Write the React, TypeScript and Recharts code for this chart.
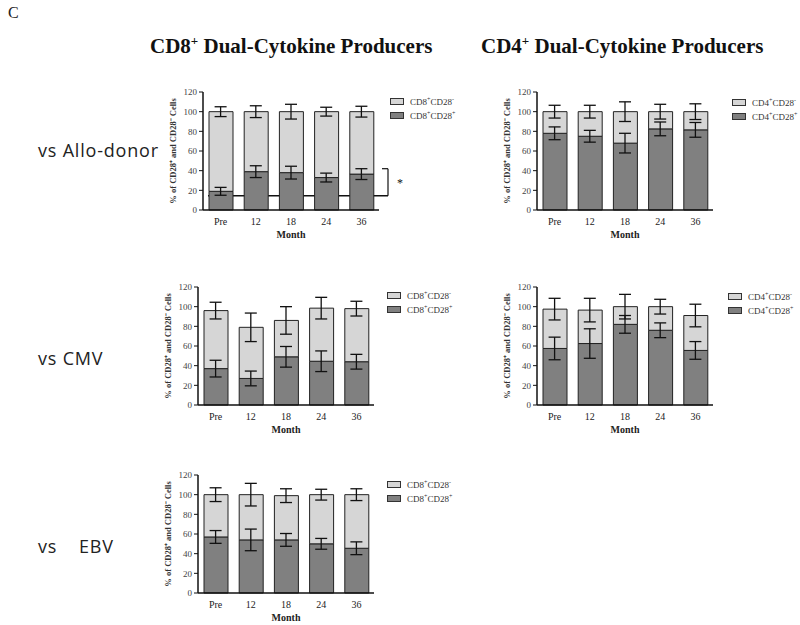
import React from 'react';
import { ComposedChart, Bar, Line, XAxis, YAxis, ErrorBar, ReferenceArea } from 'recharts';

const months = ['Pre', '12', '18', '24', '36'];
const yTicks = [0, 20, 40, 60, 80, 100, 120];

// CD8 vs Allo-donor
const cd8AlloPos = [19, 39, 38, 33, 36.5];
const cd8AlloTotal = [100, 100, 100, 100, 100];
const cd8AlloPosErr = [4, 6, 6.5, 4.5, 5.5];
const cd8AlloTotalErr = [5, 6, 7.5, 4.5, 5.5];

// CD4 vs Allo-donor
const cd4AlloPos = [78, 75, 68, 82.5, 81.5];
const cd4AlloTotal = [100, 100, 100, 100, 100];
const cd4AlloPosErr = [6.5, 6, 10, 7, 7.5];
const cd4AlloTotalErr = [6.5, 6.5, 10, 7.5, 8];

// CD8 vs CMV
const cd8CmvPos = [37, 27, 49, 44.5, 44];
const cd8CmvTotal = [96, 79, 86, 98.5, 98];
const cd8CmvPosErr = [8.5, 7.5, 10.5, 10.5, 7.5];
const cd8CmvTotalErr = [8.5, 14.5, 14, 11, 7.5];

// CD4 vs CMV
const cd4CmvPos = [57.5, 62.5, 82, 76, 55.5];
const cd4CmvTotal = [97.5, 96.5, 100, 100, 91];
const cd4CmvPosErr = [11.5, 15, 9, 7.5, 9];
const cd4CmvTotalErr = [11, 12, 12.5, 7.5, 11.5];

// CD8 vs EBV
const cd8EbvPos = [57, 54, 54, 50, 45.5];
const cd8EbvTotal = [100, 100, 99, 100, 100];
const cd8EbvPosErr = [6.5, 11, 6.5, 5.5, 6.5];
const cd8EbvTotalErr = [7, 11.5, 7, 5.5, 6];

// significance bracket (CD8 allo)
const sigLow = 14.5;
const sigHigh = 42;

const LIGHT = '#d6d6d6';
const DARK = '#808080';
const SERIF = '"Liberation Serif", "Times New Roman", serif';

const Bracket = (props: any) => {
  const { x, y, width, height } = props;
  const right = x + width + 9;
  return (
    <g>
      <line x1={x + 5} x2={right} y1={y + height} y2={y + height} stroke="#111" strokeWidth={1.4} />
      <line x1={right} x2={right} y1={y} y2={y + height} stroke="#111" strokeWidth={1.2} />
      <line x1={right - 6} x2={right} y1={y} y2={y} stroke="#111" strokeWidth={1.2} />
      <text x={right + 9} y={y + height / 2 + 5} fontSize={12} fontFamily={SERIF} fill="#111">*</text>
    </g>
  );
};

type PanelProps = {
  left: number;
  top: number;
  pos: number[];
  total: number[];
  posErr: number[];
  totalErr: number[];
  bracket?: boolean;
};

const Panel = ({ left, top, pos, total, posErr, totalErr, bracket }: PanelProps) => {
  const rows = months.map((m, i) => ({
    month: m,
    pos: pos[i],
    neg: total[i] - pos[i],
    total: total[i],
    posErr: posErr[i],
    totalErr: totalErr[i],
  }));
  const extra = bracket ? 30 : 0;
  return (
    <div style={{ position: 'absolute', left, top }}>
      <ComposedChart
        width={235 + extra}
        height={160}
        data={rows}
        margin={{ top: 12, right: 6 + extra, bottom: 2, left: 0 }}
      >
        <XAxis
          dataKey="month"
          tickLine={false}
          axisLine={{ stroke: '#111', strokeWidth: 1.5 }}
          height={28}
          tick={{ fontSize: 10, fill: '#222', fontFamily: SERIF }}
          label={{ value: 'Month', position: 'insideBottom', offset: 0, fontSize: 10, fontWeight: 'bold', fill: '#222', fontFamily: SERIF }}
        />
        <YAxis
          domain={[0, 120]}
          ticks={yTicks}
          width={53}
          tickSize={4}
          axisLine={{ stroke: '#111', strokeWidth: 1.5 }}
          tickLine={{ stroke: '#111' }}
          tick={{ fontSize: 9, fill: '#444', fontFamily: SERIF }}
          label={{
            value: '% of CD28⁺ and CD28⁻ Cells',
            angle: -90,
            position: 'center',
            dx: -4,
            fontSize: 8.5,
            fontWeight: 'bold',
            fill: '#333',
            fontFamily: SERIF,
          }}
        />
        <Bar dataKey="pos" stackId="a" fill={DARK} stroke="#222" strokeWidth={1} barSize={24} isAnimationActive={false} />
        <Bar dataKey="neg" stackId="a" fill={LIGHT} stroke="#222" strokeWidth={1} barSize={24} isAnimationActive={false} />
        <Line dataKey="pos" stroke="none" dot={false} activeDot={false} isAnimationActive={false}>
          <ErrorBar dataKey="posErr" width={6} stroke="#111" strokeWidth={1.3} direction="y" />
        </Line>
        <Line dataKey="total" stroke="none" dot={false} activeDot={false} isAnimationActive={false}>
          <ErrorBar dataKey="totalErr" width={6} stroke="#111" strokeWidth={1.3} direction="y" />
        </Line>
        {bracket && <ReferenceArea y1={sigLow} y2={sigHigh} ifOverflow="visible" shape={Bracket} />}
      </ComposedChart>
    </div>
  );
};

const LegendBox = ({ left, top, cell }: { left: number; top: number; cell: string }) => {
  const items = [
    { fill: LIGHT, sign: '-' },
    { fill: DARK, sign: '+' },
  ];
  return (
    <div style={{ position: 'absolute', left, top, fontFamily: SERIF, fontSize: 9, color: '#333' }}>
      {items.map((it, i) => (
        <div key={i} style={{ display: 'flex', alignItems: 'center', height: 14 }}>
          <span style={{ width: 12, height: 5, background: it.fill, border: '1px solid #333', marginRight: 6 }} />
          <span>
            {cell}<sup style={{ fontSize: 6 }}>+</sup>CD28<sup style={{ fontSize: 6 }}>{it.sign}</sup>
          </span>
        </div>
      ))}
    </div>
  );
};

const titleStyle: React.CSSProperties = {
  position: 'absolute',
  top: 33,
  fontFamily: SERIF,
  fontWeight: 'bold',
  fontSize: 21,
  color: '#111',
  whiteSpace: 'nowrap',
};

const rowStyle: React.CSSProperties = {
  position: 'absolute',
  left: 38,
  fontFamily: '"Open Sans", sans-serif',
  fontSize: 18,
  letterSpacing: 0.8,
  color: '#222',
  whiteSpace: 'pre',
};

const App = () => (
  <div style={{ position: 'absolute', left: 0, top: 0, width: 800, height: 625, background: '#fff', overflow: 'hidden' }}>
    <div style={{ position: 'absolute', left: 8, top: 4, fontFamily: SERIF, fontSize: 16, color: '#222' }}>C</div>
    <div style={{ ...titleStyle, left: 150 }}>
      CD8<sup style={{ fontSize: 13 }}>+</sup> Dual-Cytokine Producers
    </div>
    <div style={{ ...titleStyle, left: 481 }}>
      CD4<sup style={{ fontSize: 13 }}>+</sup> Dual-Cytokine Producers
    </div>

    <div style={{ ...rowStyle, top: 138 }}>vs Allo-donor</div>
    <div style={{ ...rowStyle, top: 346 }}>vs CMV</div>
    <div style={{ ...rowStyle, top: 534 }}>{'vs    EBV'}</div>

    <Panel left={150} top={80} pos={cd8AlloPos} total={cd8AlloTotal} posErr={cd8AlloPosErr} totalErr={cd8AlloTotalErr} bracket />
    <Panel left={484} top={80} pos={cd4AlloPos} total={cd4AlloTotal} posErr={cd4AlloPosErr} totalErr={cd4AlloTotalErr} />
    <Panel left={145} top={275} pos={cd8CmvPos} total={cd8CmvTotal} posErr={cd8CmvPosErr} totalErr={cd8CmvTotalErr} />
    <Panel left={484} top={275} pos={cd4CmvPos} total={cd4CmvTotal} posErr={cd4CmvPosErr} totalErr={cd4CmvTotalErr} />
    <Panel left={145} top={463} pos={cd8EbvPos} total={cd8EbvTotal} posErr={cd8EbvPosErr} totalErr={cd8EbvTotalErr} />

    <LegendBox left={390} top={94} cell="CD8" />
    <LegendBox left={732} top={95} cell="CD4" />
    <LegendBox left={387} top={288} cell="CD8" />
    <LegendBox left={728} top={289} cell="CD4" />
    <LegendBox left={387} top={477} cell="CD8" />
  </div>
);

export default App;
